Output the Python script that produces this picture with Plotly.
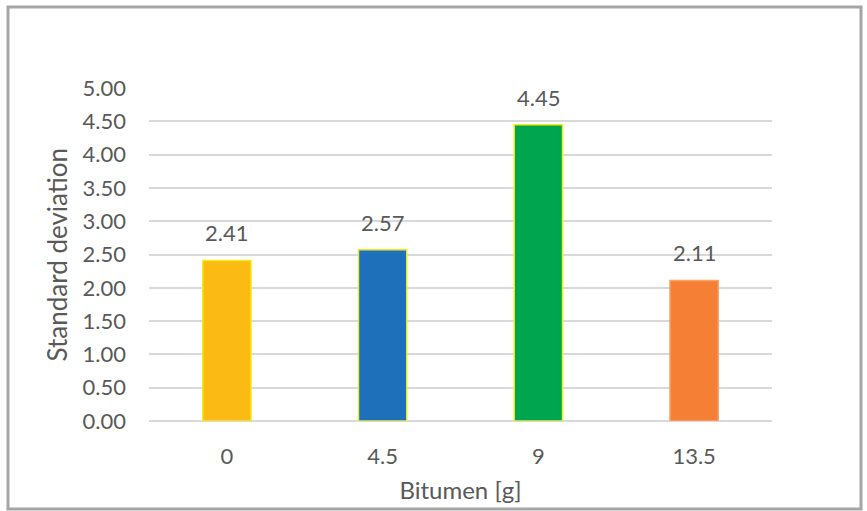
import plotly.graph_objects as go

# Bitumen content categories and their standard deviations
categories = ["0", "4.5", "9", "13.5"]
std_dev = [2.41, 2.57, 4.45, 2.11]
bar_colors = ["#FBBA14", "#1F70BA", "#00A54F", "#F47F35"]
edge_colors = ["#F2EC1B", "#F2EC1B", "#F2EC1B", "#F9A36A"]
y_ticks = [0, 0.5, 1, 1.5, 2, 2.5, 3, 3.5, 4, 4.5, 5]

FONT = "Lato, Carlito, Calibri, sans-serif"
GREY = "#595959"

W, H = 867, 511
L, R, T, B = 149, 95, 88, 90
pw, ph = W - L - R, H - T - B

fig = go.Figure()
fig.add_trace(go.Bar(
    x=categories,
    y=std_dev,
    width=0.31,
    marker=dict(color=bar_colors, line=dict(color=edge_colors, width=1.5)),
    hoverinfo="x+y",
))

# value labels above each bar (x given as category index)
for i, v in enumerate(std_dev):
    fig.add_annotation(
        x=i, y=v, xref="x", yref="y", text=f"{v:.2f}", showarrow=False,
        yanchor="bottom", yshift=12,
        font=dict(family=FONT, size=22, color=GREY),
    )

# vertical axis title, placed in the left margin
fig.add_annotation(
    x=(56 - L) / pw, y=0.5, xref="paper", yref="paper",
    text="Standard deviation", textangle=-90, showarrow=False,
    xanchor="center", yanchor="middle",
    font=dict(family=FONT, size=26, color=GREY),
)

# outer chart frame
fx0, fx1 = 8, 861
fy0, fy1 = 7, 509
fig.add_shape(
    type="rect", xref="paper", yref="paper",
    x0=(fx0 - L) / pw, x1=(fx1 - L) / pw,
    y0=(T + ph - fy1) / ph, y1=(T + ph - fy0) / ph,
    line=dict(color="#A6A6A6", width=3), layer="below",
)

fig.update_layout(
    width=W, height=H,
    margin=dict(l=L, r=R, t=T, b=B, autoexpand=False),
    paper_bgcolor="white", plot_bgcolor="white",
    showlegend=False,
    font=dict(family=FONT, size=22, color=GREY),
)
fig.update_xaxes(
    type="category",
    range=[-0.5, len(categories) - 0.5],
    title=dict(text="Bitumen [g]", font=dict(size=24, color=GREY), standoff=14),
    tickfont=dict(size=22, color=GREY),
    showline=False, showgrid=False, ticks="", ticklabelstandoff=20,
    automargin=False,
)
fig.update_yaxes(
    range=[0, 5],
    tickvals=y_ticks,
    ticktext=[f"{t:.2f}" for t in y_ticks],
    tickfont=dict(size=22, color=GREY),
    showgrid=True, gridcolor="#D9D9D9", gridwidth=1.5,
    zeroline=True, zerolinecolor="#D9D9D9", zerolinewidth=1.5,
    showline=False, ticks="", ticklabelstandoff=22,
    automargin=False,
)

fig.write_html("out.html")
